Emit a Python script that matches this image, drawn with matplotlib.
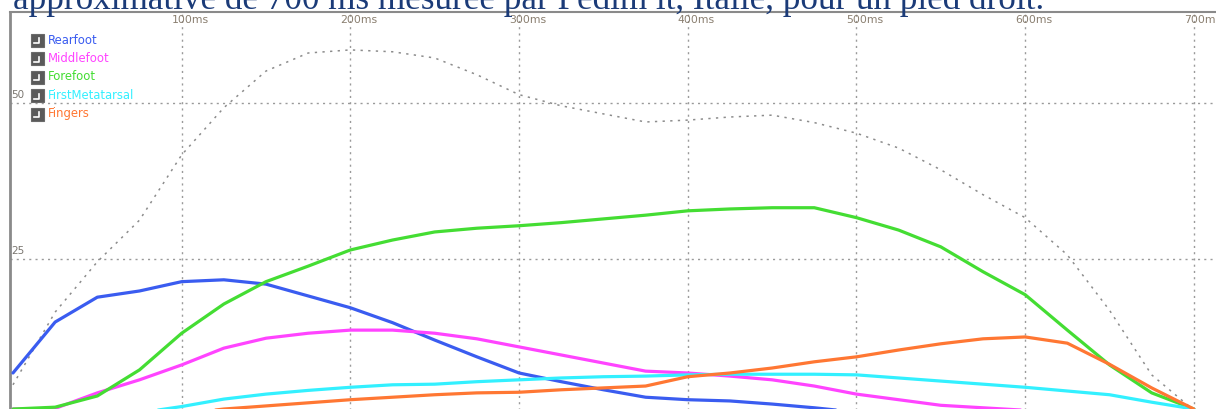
import matplotlib.pyplot as plt
from matplotlib.patches import Rectangle
from matplotlib.lines import Line2D
from matplotlib import transforms

# Temps (ms) et charges par zone du pied droit
temps = [0, 25, 50, 75, 100, 125, 150, 175, 200, 225, 250, 275, 300, 325, 350,
         375, 400, 425, 450, 475, 500, 525, 550, 575, 600, 625, 650, 675, 700]

total = [4.7, 16.4, 24.5, 31.2, 41.7, 49.3, 55.2, 58.1, 58.6, 58.3, 57.3, 54.6, 51.4, 49.6, 48.3,
         47.0, 47.3, 47.8, 48.1, 46.9, 45.2, 42.8, 39.3, 35.3, 31.6, 25.6, 16.7, 6.3, 0.6]
rearfoot = [6.6, 14.8, 18.8, 19.8, 21.3, 21.6, 20.9, 19.0, 17.1, 14.7, 11.9, 9.2, 6.6, 5.2, 3.9,
            2.7, 2.3, 2.1, 1.6, 1.0, 0.3, 0, 0, 0, 0, 0, 0, 0, 0]
middlefoot = [0.8, 0.9, 3.4, 5.5, 7.9, 10.6, 12.2, 13.0, 13.5, 13.5, 13.0, 12.1, 10.8, 9.5, 8.2,
              6.9, 6.6, 6.1, 5.5, 4.5, 3.2, 2.3, 1.4, 1.0, 0.6, 0.3, 0.2, 0, 0]
forefoot = [0.8, 1.1, 2.9, 7.1, 13.0, 17.7, 21.3, 23.8, 26.4, 28.0, 29.3, 29.9, 30.3, 30.8, 31.4,
            32.0, 32.7, 33.0, 33.2, 33.2, 31.6, 29.6, 26.9, 22.9, 19.2, 13.5, 7.9, 3.4, 0.8]
first_metatarsal = [0, 0, 0, 0.2, 1.2, 2.4, 3.2, 3.8, 4.3, 4.7, 4.8, 5.2, 5.5, 5.8, 6.0,
                    6.1, 6.3, 6.4, 6.4, 6.4, 6.3, 5.8, 5.3, 4.8, 4.3, 3.7, 3.1, 1.9, 0.8]
fingers = [0, 0, 0, 0, 0, 0.8, 1.3, 1.8, 2.3, 2.7, 3.1, 3.4, 3.5, 3.9, 4.2,
           4.5, 6.0, 6.6, 7.4, 8.4, 9.2, 10.3, 11.3, 12.1, 12.4, 11.4, 8.0, 4.2, 0.8]

noms = ["Rearfoot", "Middlefoot", "Forefoot", "FirstMetatarsal", "Fingers"]
couleurs = ["#3a5cf0", "#ff44ff", "#44dd33", "#33f0ff", "#ff7733"]
series = [rearfoot, middlefoot, forefoot, first_metatarsal, fingers]

ticks_x = [100, 200, 300, 400, 500, 600, 700]
ticks_y = [25, 50]

W, H = 1216, 409
fig = plt.figure(figsize=(W / 100, H / 100), dpi=100)
fig.patch.set_facecolor("white")

# zone du graphique (le bas et la droite sortent de l'image)
ax = fig.add_axes([9.6 / W, (H - 414) / H, 1218 / W, 402 / H])
ax.set_xlim(-2, 720)
ax.set_ylim(0, 64.7)
ax.set_xticks([])
ax.set_yticks([])
for s in ["right", "bottom"]:
    ax.spines[s].set_visible(False)
ax.spines["left"].set_color("#8a8a8a")
ax.spines["left"].set_linewidth(2)
ax.spines["top"].set_color("#8a8a8a")
ax.spines["top"].set_linewidth(1.5)

# grille pointillée
for t in ticks_x:
    ax.axvline(t, color="#9a9a9a", lw=1, ls=(0, (1.5, 3)), zorder=1)
for v in ticks_y:
    ax.axhline(v, color="#9a9a9a", lw=1, ls=(0, (1.5, 3)), zorder=1)

# étiquettes en haut et à gauche
for t in ticks_x:
    tr = transforms.offset_copy(ax.get_xaxis_transform(), fig=fig, x=-10, y=-8, units="dots")
    ax.text(t, 1, f"{t}ms", transform=tr, fontsize=7.8, color="#8a7f70",
            ha="left", va="center")
for v in ticks_y:
    tr = transforms.offset_copy(ax.get_yaxis_transform(), fig=fig, x=2, y=3, units="dots")
    ax.text(0, v, str(v), transform=tr, fontsize=7.5, color="#7a7670",
            ha="left", va="bottom")

# courbe totale en pointillés gris
ax.plot(temps, total, color="#8c8c8c", lw=1.1, ls=(0, (1.5, 3.5)), zorder=2)

for vals, c in zip(series, couleurs):
    ax.plot(temps, vals, color=c, lw=2.3, solid_capstyle="round", zorder=3)

# légende avec cases cochées
rows = [40, 58.5, 77, 95.5, 114]
for y, nom, c in zip(rows, noms, couleurs):
    fig.patches.append(Rectangle((31 / W, (H - y - 6.5) / H), 13 / W, 13 / H,
                                 transform=fig.transFigure, facecolor="#5a5a5a",
                                 edgecolor="#6a6a6a", lw=0.8))
    fig.lines.append(Line2D([34 / W, 39 / W, 39 / W], [(H - y - 3) / H, (H - y - 3) / H, (H - y + 2) / H],
                            transform=fig.transFigure, color="white", lw=1.2))
    fig.text(48 / W, (H - y) / H, nom, fontsize=8.4, color=c, ha="left", va="center")

# phrase du texte au-dessus (coupée en haut)
fig.text(13 / W, 1 - 9 / H,
         "approximative de 700 ms mesurée par Pedim it, Italie, pour un pied droit.",
         family="Liberation Serif", fontsize=25.3, color="#1b3b78", ha="left", va="baseline")

fig.savefig("out.png", dpi=100, facecolor="white")
